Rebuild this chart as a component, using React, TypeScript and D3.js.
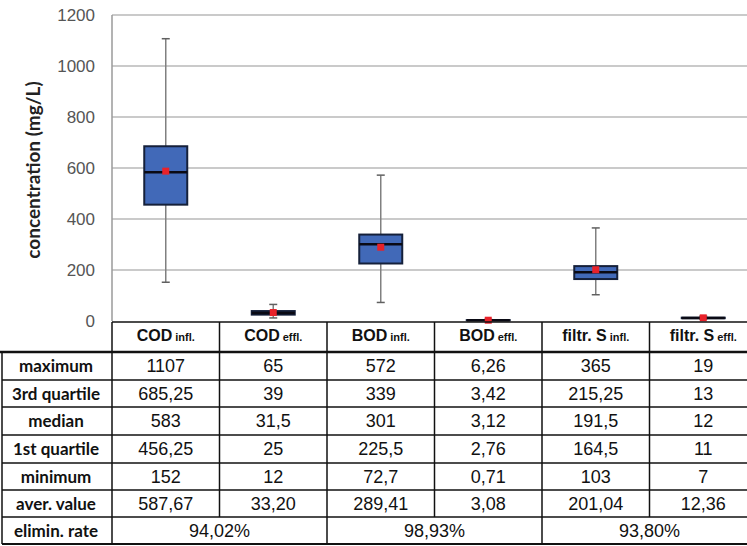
import React from "react";
import * as d3 from "d3";

const categories = ["COD", "COD", "BOD", "BOD", "filtr. S", "filtr. S"];
const subLabels = ["infl.", "effl.", "infl.", "effl.", "infl.", "effl."];
const maximum = [1107, 65, 572, 6.26, 365, 19];
const q3 = [685.25, 39, 339, 3.42, 215.25, 13];
const median = [583, 31.5, 301, 3.12, 191.5, 12];
const q1 = [456.25, 25, 225.5, 2.76, 164.5, 11];
const minimum = [152, 12, 72.7, 0.71, 103, 7];
const mean = [587.67, 33.2, 289.41, 3.08, 201.04, 12.36];
const elimRate = ["94,02%", "98,93%", "93,80%"];
const yTicks = [0, 200, 400, 600, 800, 1000, 1200];
const rowLabels = ["maximum", "3rd quartile", "median", "1st quartile", "minimum", "aver. value", "elimin. rate"];

const fmt = (v: number) => String(v).replace(".", ",");
const fmt2 = (v: number) => v.toFixed(2).replace(".", ",");

export default function App() {
  const W = 747, H = 546;
  const left = 112, right = 757;
  const y = d3.scaleLinear().domain([0, 1200]).range([321, 15]);
  const idx = d3.range(categories.length);
  const x = d3.scaleBand<number>().domain(idx).range([left, right]).padding(0);
  const bw = x.bandwidth();
  const cx = (i: number) => (x(i) as number) + bw / 2;
  const boxW = 43;
  const cap = 8;

  const rowLines = [352, 380, 407, 435, 463, 490, 517, 544];
  const rowVals = [maximum.map(fmt), q3.map(fmt), median.map(fmt), q1.map(fmt), minimum.map(fmt), mean.map(fmt2)];

  const valueFont = "'Liberation Sans', Arial, sans-serif";
  const labelFont = "Lato, 'Open Sans', sans-serif";

  return (
    <svg width={W} height={H} style={{ position: "absolute", left: 0, top: 0, background: "#fff" }}>
      {/* gridlines */}
      {yTicks.filter(t => t > 0).map(t => (
        <line key={t} x1={left} x2={W} y1={y(t)} y2={y(t)} stroke="#b8b8b8" strokeWidth={1.5} />
      ))}
      <line x1={left} x2={left} y1={y(1200)} y2={y(0)} stroke="#9a9a9a" strokeWidth={1.5} />
      {/* y tick labels */}
      {yTicks.map(t => (
        <text key={t} x={95} y={y(t)} dy="0.35em" textAnchor="end" fontFamily={valueFont} fontSize={17} fill="#555">{t}</text>
      ))}
      <text transform={`translate(40,170) rotate(-90)`} textAnchor="middle" fontFamily={labelFont} fontWeight="bold" fontSize={19} fill="#222">concentration (mg/L)</text>

      {/* boxes */}
      {idx.map(i => (
        <g key={i}>
          <line x1={cx(i)} x2={cx(i)} y1={y(maximum[i])} y2={y(q3[i])} stroke="#808080" strokeWidth={1.5} />
          <line x1={cx(i)} x2={cx(i)} y1={y(q1[i])} y2={y(minimum[i])} stroke="#808080" strokeWidth={1.5} />
          <line x1={cx(i) - cap / 2} x2={cx(i) + cap / 2} y1={y(maximum[i])} y2={y(maximum[i])} stroke="#606060" strokeWidth={1.5} />
          <line x1={cx(i) - cap / 2} x2={cx(i) + cap / 2} y1={y(minimum[i])} y2={y(minimum[i])} stroke="#606060" strokeWidth={1.5} />
          <rect x={cx(i) - boxW / 2} y={y(q3[i])} width={boxW} height={y(q1[i]) - y(q3[i])} fill="#4169b8" stroke="#15203a" strokeWidth={2} />
          <line x1={cx(i) - boxW / 2} x2={cx(i) + boxW / 2} y1={y(median[i])} y2={y(median[i])} stroke="#0a0a14" strokeWidth={2.5} />
          <rect x={cx(i) - 3.5} y={y(mean[i]) - 3.5} width={7} height={7} fill="#e8222a" />
        </g>
      ))}

      {/* table */}
      <line x1={left} x2={W} y1={322} y2={322} stroke="#111" strokeWidth={1.5} />
      {idx.map(i => (
        <text key={i} x={cx(i)} y={341} textAnchor="middle" fontFamily="'Liberation Sans Narrow', 'Liberation Sans', Arial, sans-serif" fontWeight="bold" fill="#111">
          <tspan fontSize={16}>{categories[i]}</tspan>
          <tspan fontSize={11} dx={3}>{subLabels[i]}</tspan>
        </text>
      ))}
      {rowLines.map((ly, k) => (
        <line key={k} x1={k === 0 ? 0 : 2} x2={W} y1={ly} y2={ly} stroke="#111" strokeWidth={k === 0 ? 2.5 : k === rowLines.length - 1 ? 2 : 1.5} />
      ))}
      <line x1={2} x2={2} y1={352} y2={544} stroke="#111" strokeWidth={1.5} />
      {idx.map(i => (
        <line key={i} x1={x(i) as number} x2={x(i) as number} y1={322} y2={i % 2 === 1 ? 517 : 544} stroke="#111" strokeWidth={1.5} />
      ))}
      {rowLabels.map((lab, r) => (
        <text key={lab} x={56} y={(rowLines[r] + rowLines[r + 1]) / 2} dy="0.36em" textAnchor="middle" fontFamily={labelFont} fontWeight="bold" fontSize={17} fill="#111">{lab}</text>
      ))}
      {rowVals.map((vals, r) =>
        vals.map((v, i) => (
          <text key={`${r}-${i}`} x={cx(i)} y={(rowLines[r] + rowLines[r + 1]) / 2} dy="0.36em" textAnchor="middle" fontFamily={valueFont} fontSize={18} fill="#111">{v}</text>
        ))
      )}
      {elimRate.map((v, k) => (
        <text key={k} x={(x(2 * k) as number) + bw} y={(rowLines[6] + rowLines[7]) / 2} dy="0.36em" textAnchor="middle" fontFamily={valueFont} fontSize={18} fill="#111">{v}</text>
      ))}
    </svg>
  );
}
